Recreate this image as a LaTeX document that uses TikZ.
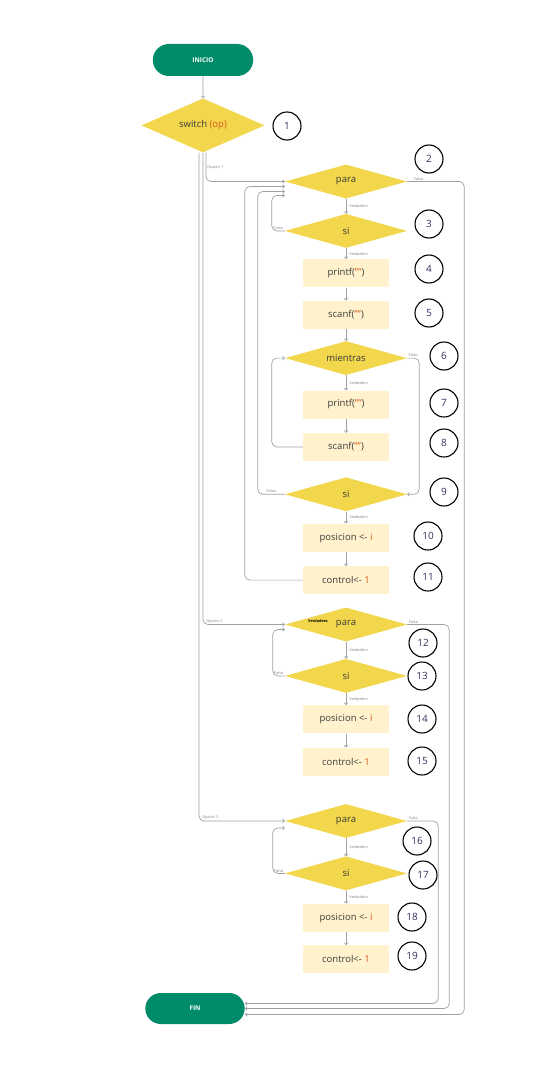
\documentclass[tikz,border=0pt]{standalone}
\usepackage{fontspec}
\setmainfont{Open Sans}
\usetikzlibrary{positioning, arrows.meta, shapes.geometric, shapes.misc}
\definecolor{pill}{RGB}{0,140,106}
\definecolor{gold}{RGB}{242,214,75}
\definecolor{cream}{RGB}{255,242,204}
\definecolor{wire}{RGB}{160,160,160}
\definecolor{ink}{RGB}{60,60,60}
\definecolor{lit}{RGB}{214,90,30}
\definecolor{numc}{RGB}{55,45,95}

\begin{document}
\begin{tikzpicture}[
  x=1pt, y=-1pt,
  font=\fontsize{9.5}{11}\selectfont,
  term/.style={rounded rectangle, fill=pill, text=white, minimum width=107pt,
               minimum height=32pt, font=\fontsize{6.5}{7}\selectfont\bfseries},
  dec/.style={diamond, fill=gold, aspect=3.6, minimum width=122pt,
              minimum height=34pt, inner sep=0pt, text=ink},
  act/.style={rectangle, fill=cream, minimum width=86pt, minimum height=28pt,
              text=ink},
  num/.style={circle, draw=black, line width=1.1pt, minimum size=28pt,
              inner sep=0pt, text=numc, font=\fontsize{10}{11}\selectfont},
  flow/.style={-{To[length=2.5pt, width=4pt]}, draw=wire, line width=0.7pt,
               rounded corners=5pt},
  lbl/.style={font=\fontsize{3.8}{4}\selectfont, text=gray, inner sep=1pt},
]
\useasboundingbox (0,0) rectangle (535,1070);

\node[term] (inicio) at (203,60) {INICIO};
\node[dec, minimum width=123pt, minimum height=54pt, below=22pt of inicio] (switch)
  {switch \textcolor{lit}{(op)}};

% opcion 1
\node[dec] (para1) at (346,181.5) {para};
\node[dec, below=15pt of para1] (si1) {si};
\node[act, below=11pt of si1] (printf1) {printf(\textcolor{lit}{""})};
\node[act, below=13pt of printf1] (scanf1) {scanf(\textcolor{lit}{""})};
\node[dec, below=12pt of scanf1] (mientras) {mientras};
\node[act, below=15pt of mientras] (printf2) {printf(\textcolor{lit}{""})};
\node[act, below=14pt of printf2] (scanf2) {scanf(\textcolor{lit}{""})};
\node[dec, below=16pt of scanf2] (si2) {si};
\node[act, below=12pt of si2] (pos1) {posicion <- \textcolor{lit}{i}};
\node[act, below=14pt of pos1] (ctrl1) {control<- \textcolor{lit}{1}};

% opcion 2
\node[dec] (para2) at (346,624.5) {para};
\node[lbl, text=black, font=\fontsize{3.8}{4}\selectfont\bfseries] (vpara2)
  at ([xshift=-28pt, yshift=3pt]para2.center) {Verdadero};
\node[dec, below=17pt of para2] (si3) {si};
\node[act, below=12pt of si3] (pos2) {posicion <- \textcolor{lit}{i}};
\node[act, below=14pt of pos2] (ctrl2) {control<- \textcolor{lit}{1}};

% opcion 3
\node[dec] (para3) at (346,821) {para};
\node[dec, below=18pt of para3] (si4) {si};
\node[act, below=13pt of si4] (pos3) {posicion <- \textcolor{lit}{i}};
\node[act, below=13pt of pos3] (ctrl3) {control<- \textcolor{lit}{1}};

\node[term, minimum width=106pt, minimum height=31pt] (fin) at (195,1008.5) {FIN};

% numbered circles
\foreach \n/\x/\y in {1/287/126, 2/429/159, 3/429/224, 4/429/269, 5/429/313,
    6/444/356, 7/444/403, 8/444/443, 9/444/492, 10/428/536, 11/428/577,
    12/423/643, 13/422/676, 14/422/719, 15/422/761, 16/417/841, 17/423/875,
    18/412/917, 19/412/956}
  \node[num] (c\n) at (\x,\y) {\n};

% connectors
\draw[flow] (inicio) -- (switch);
\draw[flow] ([xshift=3pt]switch.south) |- node[lbl, pos=0.25, right]{Opción 1} (para1.west);
\draw[flow] (switch.south) |- node[lbl, pos=0.5, above right, xshift=2pt]{Opción 2} (para2.west);
\draw[flow] ([xshift=-4pt]switch.south) |- node[lbl, pos=0.5, above right, xshift=2pt]{Opción 3} (para3.west);

\draw[flow] (para1) -- node[lbl, right, xshift=2pt]{Verdadero} (si1);
\draw[flow] (si1) -- node[lbl, right, xshift=2pt]{Verdadero} (printf1);
\draw[flow] (printf1) -- (scanf1);
\draw[flow] (scanf1) -- (mientras);
\draw[flow] (mientras) -- node[lbl, right, xshift=2pt]{Verdadero} (printf2);
\draw[flow] (printf2) -- (scanf2);
\draw[flow] (scanf2.west) -- ++(-31,0) |- (mientras.west);
\draw[flow] (mientras.east) -- node[lbl, above]{Falso} ++(12,0) |- (si2.east);
\draw[flow] (si2) -- node[lbl, right, xshift=2pt]{Verdadero} (pos1);
\draw[flow] (pos1) -- (ctrl1);
\draw[flow] (si1.west) -- node[lbl, above]{Falso} ++(-13,0) |- ([yshift=-14pt]para1.west);
\draw[flow] (si2.west) -- node[lbl, above]{Falso} ++(-27,0) |- ([yshift=-10pt]para1.west);
\draw[flow] (ctrl1.west) -- ++(-58,0) |- ([yshift=-5pt]para1.west);
\draw[flow] (para1.east) -- node[lbl, above, pos=0.2]{Falso} ++(57,0) |- ([yshift=-6pt]fin.east);

\draw[flow] (para2) -- node[lbl, right, xshift=2pt]{Verdadero} (si3);
\draw[flow] (si3) -- node[lbl, right, xshift=2pt]{Verdadero} (pos2);
\draw[flow] (pos2) -- (ctrl2);
\draw[flow] (si3.west) -- node[lbl, above]{Falso} ++(-12,0) |- ([yshift=-5pt]para2.west);
\draw[flow] (para2.east) -- node[lbl, above, pos=0.15]{Falso} ++(42,0) |- (fin.east);

\draw[flow] (para3) -- node[lbl, right, xshift=2pt]{Verdadero} (si4);
\draw[flow] (si4) -- node[lbl, right, xshift=2pt]{Verdadero} (pos3);
\draw[flow] (pos3) -- (ctrl3);
\draw[flow] (si4.west) -- node[lbl, above]{Falso} ++(-12,0) |- ([yshift=-7pt]para3.west);
\draw[flow] (para3.east) -- node[lbl, above, pos=0.2]{Falso} ++(31,0) |- ([yshift=5pt]fin.east);
\end{tikzpicture}
\end{document}
